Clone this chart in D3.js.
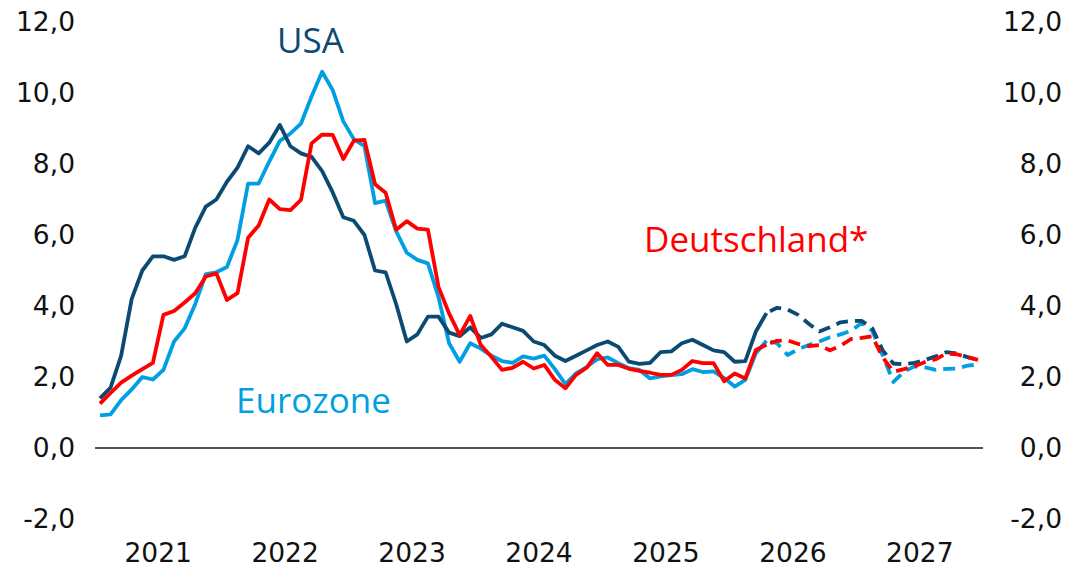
<!DOCTYPE html>
<html>
<head>
<meta charset="utf-8">
<script src="https://cdn.jsdelivr.net/npm/d3@7"></script>
<style>
  html, body { margin: 0; padding: 0; background: #fff; }
  svg { display: block; }
</style>
</head>
<body>
<svg id="chart" width="1065" height="570"></svg>
<script>
// ---- data ----
const years = [2021, 2022, 2023, 2024, 2025, 2026, 2027];
const months = [];
years.forEach(y => { for (let m = 1; m <= 12; m++) months.push(y + "-" + String(m).padStart(2, "0")); });

const usa = [1.4, 1.7, 2.6, 4.2, 5.0, 5.4, 5.4, 5.3, 5.4, 6.2, 6.8, 7.0,
             7.5, 7.9, 8.5, 8.3, 8.6, 9.1, 8.5, 8.3, 8.2, 7.8, 7.2, 6.5,
             6.4, 6.0, 5.0, 4.95, 4.05, 3.0, 3.2, 3.7, 3.7, 3.25, 3.15, 3.4,
             3.1, 3.2, 3.5, 3.4, 3.3, 3.0, 2.9, 2.6, 2.45, 2.6, 2.75, 2.9,
             3.0, 2.85, 2.43, 2.37, 2.4, 2.7, 2.72, 2.95, 3.05, 2.9, 2.75, 2.7,
             2.43, 2.45, 3.28, 3.8, 3.95, 3.9, 3.75, 3.5, 3.28, 3.4, 3.54, 3.58,
             3.58, 3.38, 2.75, 2.38, 2.36, 2.4, 2.48, 2.58, 2.7, 2.66, 2.56, 2.48];

const eurozone = [0.92, 0.95, 1.35, 1.65, 2.0, 1.93, 2.2, 3.0, 3.37, 4.05, 4.9, 4.95,
                  5.1, 5.86, 7.45, 7.45, 8.07, 8.65, 8.86, 9.14, 9.9, 10.6, 10.08, 9.2,
                  8.7, 8.5, 6.9, 6.97, 6.1, 5.5, 5.3, 5.2, 4.25, 2.95, 2.43, 2.95,
                  2.8, 2.6, 2.45, 2.4, 2.58, 2.52, 2.6, 2.22, 1.8, 2.1, 2.28, 2.5,
                  2.55, 2.39, 2.25, 2.2, 1.96, 2.02, 2.05, 2.08, 2.22, 2.14, 2.16, 1.97,
                  1.73, 1.92, 2.67, 3.02, 2.95, 2.62, 2.78, 2.9, 3.0, 3.12, 3.2, 3.3,
                  3.52, 3.3, 2.6, 1.86, 2.15, 2.3, 2.27, 2.2, 2.23, 2.24, 2.32, 2.35];

const deutschland = [1.25, 1.55, 1.84, 2.04, 2.22, 2.4, 3.75, 3.86, 4.1, 4.36, 4.83, 4.92,
                     4.17, 4.36, 5.92, 6.27, 7.0, 6.73, 6.7, 6.99, 8.58, 8.83, 8.82, 8.14,
                     8.66, 8.68, 7.43, 7.19, 6.15, 6.39, 6.18, 6.15, 4.54, 3.79, 3.18, 3.72,
                     2.9, 2.57, 2.2, 2.26, 2.43, 2.24, 2.34, 1.92, 1.68, 2.06, 2.26, 2.67,
                     2.34, 2.34, 2.23, 2.17, 2.12, 2.06, 2.06, 2.2, 2.45, 2.39, 2.39, 1.88,
                     2.1, 1.96, 2.76, 2.91, 3.02, 3.03, 2.93, 2.87, 2.9, 2.75, 2.88, 3.07,
                     3.1, 3.15, 2.55, 2.15, 2.22, 2.3, 2.42, 2.5, 2.66, 2.64, 2.56, 2.48];

const forecastStart = "2026-05";   // first month of the dashed (forecast) part
const yTicks = [-2, 0, 2, 4, 6, 8, 10, 12];

const seriesList = [
  { name: "Eurozone", values: eurozone, color: "#009fe3" },
  { name: "USA", values: usa, color: "#0b4a72" },
  { name: "Deutschland*", values: deutschland, color: "#ff0000" }
];

// ---- layout ----
const svg = d3.select("#chart");
const x = d3.scaleBand().domain(months).range([94.7, 983.3]);
const xYear = d3.scaleBand().domain(years).range([94.7, 983.3]);
const y = d3.scaleLinear().domain([-2, 12]).range([519, 22]);
const cx = m => x(m) + x.bandwidth() / 2;
const fmt = d => d.toFixed(1).replace(".", ",");
const tickFont = "'DejaVu Sans', sans-serif";
const tickSize = 26.5;

// zero line
svg.append("line")
  .attr("x1", 95).attr("x2", 983)
  .attr("y1", y(0)).attr("y2", y(0))
  .attr("stroke", "#1a1a1a").attr("stroke-width", 1.6);

// left axis
const leftAxis = svg.append("g").attr("transform", "translate(75,0)")
  .call(d3.axisLeft(y).tickValues(yTicks).tickSize(0).tickPadding(0).tickFormat(fmt));
leftAxis.select(".domain").remove();
leftAxis.selectAll("text").attr("font-family", tickFont).attr("font-size", tickSize).attr("fill", "#111");

// right axis
const rightAxis = svg.append("g").attr("transform", "translate(1062,0)")
  .call(d3.axisLeft(y).tickValues(yTicks).tickSize(0).tickPadding(0).tickFormat(fmt));
rightAxis.select(".domain").remove();
rightAxis.selectAll("text").attr("font-family", tickFont).attr("font-size", tickSize).attr("fill", "#111");

// bottom axis (years)
const bottomAxis = svg.append("g").attr("transform", "translate(0,543)")
  .call(d3.axisBottom(xYear).tickSize(0).tickPadding(0));
bottomAxis.select(".domain").remove();
bottomAxis.selectAll("text").attr("font-family", tickFont).attr("font-size", tickSize).attr("fill", "#111");

// lines
const fIdx = months.indexOf(forecastStart) - 1;
const line = d3.line().x(d => cx(d.m)).y(d => y(d.v)).curve(d3.curveLinear);

seriesList.forEach(s => {
  const pts = months.map((m, i) => ({ m, v: s.values[i] }));
  svg.append("path").datum(pts.slice(0, fIdx + 1))
    .attr("d", line).attr("fill", "none")
    .attr("stroke", s.color).attr("stroke-width", 3.8)
    .attr("stroke-linejoin", "round");
  svg.append("path").datum(pts.slice(fIdx))
    .attr("d", line).attr("fill", "none")
    .attr("stroke", s.color).attr("stroke-width", 3.8)
    .attr("stroke-dasharray", "12,7").attr("stroke-dashoffset", -4)
    .attr("stroke-linejoin", "round");
});

// series labels
const labelFont = "'Open Sans', sans-serif";
const labels = [
  { text: "USA", x: 277, y: 53, color: "#0b4a72" },
  { text: "Eurozone", x: 236, y: 413, color: "#009fe3" },
  { text: "Deutschland*", x: 644, y: 252, color: "#ff0000" }
];
svg.selectAll("text.series").data(labels).enter().append("text")
  .attr("class", "series")
  .attr("x", d => d.x).attr("y", d => d.y)
  .attr("fill", d => d.color)
  .attr("font-family", labelFont).attr("font-size", 35)
  .text(d => d.text);
</script>
</body>
</html>
